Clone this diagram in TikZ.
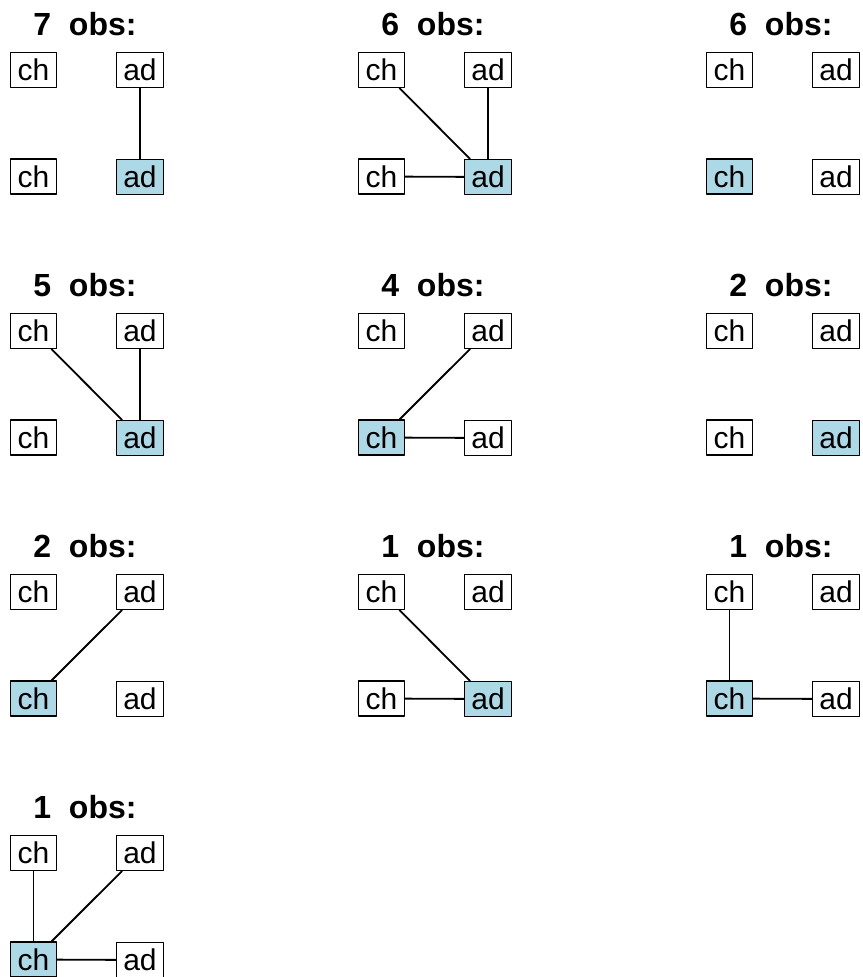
\documentclass[tikz,border=0pt]{standalone}
\usepackage{fontspec}
\setmainfont{Liberation Sans}
\definecolor{lightblue}{HTML}{ADD8E6}
\begin{document}
\begin{tikzpicture}[x=1pt, y=1pt, line join=round, line cap=round,
		box/.style={draw, fill=white, line width=1.1pt, inner xsep=7pt, inner ysep=0pt, minimum height=35pt, font=\fontsize{30}{32}\selectfont},
		hit/.style={box, fill=lightblue},
		edge/.style={line width=1.8pt},
		title/.style={anchor=base, font=\fontsize{32}{34}\selectfont\bfseries}]
		\def\dx{348} \def\dy{261} % Khoảng cách giữa các ô
		\useasboundingbox (0,0) rectangle (862,-977);
		% n/cột/hàng/số obs/kiểu ô dưới trái/kiểu ô dưới phải
		\foreach \n/\c/\r/\k/\sl/\sr in {1/0/0/7/box/hit, 2/1/0/6/box/hit, 3/2/0/6/hit/box,
			4/0/1/5/box/hit, 5/1/1/4/hit/box, 6/2/1/2/box/hit,
			7/0/2/2/hit/box, 8/1/2/1/box/hit, 9/2/2/1/hit/box, 10/0/3/1/hit/box}{
			\node[title] (t\n) at ({85+\dx*\c}, {-35-\dy*\r}) {\k\ \ obs:};
			\node[box] (tl\n) at ({33.5+\dx*\c}, {-70-\dy*\r}) {ch};
			\node[box] (tr\n) at ({140+\dx*\c}, {-70-\dy*\r}) {ad};
			\node[\sl] (bl\n) at ({33.5+\dx*\c}, {-176.5-\dy*\r}) {ch};
			\node[\sr] (br\n) at ({140+\dx*\c}, {-177-\dy*\r}) {ad};
		}
		\foreach \a/\b in {tr1/br1, tl2/br2, tr2/br2, bl2/br2, tl4/br4, tr4/br4,
			tr5/bl5, bl5/br5, tr7/bl7, tl8/br8, bl8/br8, tl9/bl9, bl9/br9,
			tl10/bl10, tr10/bl10, bl10/br10}
		\draw[edge] (\a) -- (\b);
\end{tikzpicture}
\end{document}
